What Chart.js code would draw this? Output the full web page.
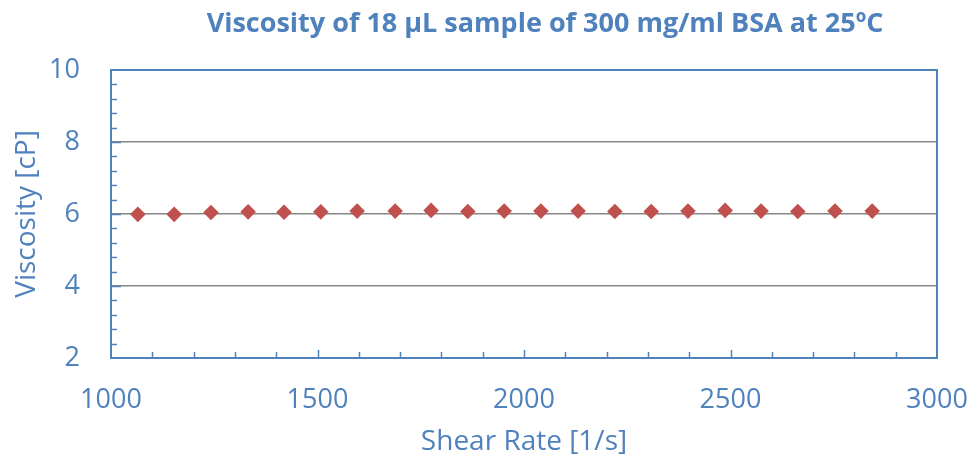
<!DOCTYPE html>
<html><head><meta charset="utf-8">
<script src="https://cdn.jsdelivr.net/npm/chart.js@4"></script>
<style>html,body{margin:0;padding:0;background:#fff}#wrap{width:971px;height:462px}</style>
</head><body><div id="wrap"><canvas id="c" width="971" height="462"></canvas></div>
<script>
const chartTitle = 'Viscosity of 18 µL sample of 300 mg/ml BSA at 25ºC';
const xAxisTitle = 'Shear Rate [1/s]';
const yAxisTitle = 'Viscosity [cP]';
const shearRate = [1065, 1153, 1242, 1332, 1419, 1508, 1596, 1688, 1775, 1864, 1952, 2041, 2131, 2220, 2308, 2397, 2487, 2574, 2663, 2753, 2843];
const viscosity = [5.99, 5.99, 6.04, 6.06, 6.05, 6.06, 6.08, 6.08, 6.10, 6.07, 6.08, 6.08, 6.08, 6.07, 6.07, 6.08, 6.10, 6.08, 6.07, 6.08, 6.08];
const xRange = [1000, 3000];
const yRange = [2, 10];
const xMajorStep = 500, xMinorStep = 100;
const yMajorStep = 2, yMinorStep = 0.4;

const BLUE = '#4F81BD';
const RED = '#C0504D';
const FONT = '"Open Sans", "DejaVu Sans", sans-serif';

const framePlugin = {
  id: 'frame',
  beforeDatasetsDraw(chart) {
    const {ctx, chartArea: a, scales: {x, y}} = chart;
    ctx.save();
    ctx.strokeStyle = BLUE;
    ctx.lineWidth = 1.5;
    const nx = Math.round((xRange[1] - xRange[0]) / xMinorStep);
    for (let i = 1; i < nx; i++) {
      const v = xRange[0] + i * xMinorStep;
      const px = Math.round(x.getPixelForValue(v)) + 0.5;
      const len = (i % (xMajorStep / xMinorStep) === 0) ? 8 : 6;
      ctx.beginPath(); ctx.moveTo(px, a.bottom); ctx.lineTo(px, a.bottom - len); ctx.stroke();
    }
    const ny = Math.round((yRange[1] - yRange[0]) / yMinorStep);
    for (let i = 1; i < ny; i++) {
      const v = yRange[0] + i * yMinorStep;
      const py = Math.round(y.getPixelForValue(v)) + 0.5;
      const len = (i % Math.round(yMajorStep / yMinorStep) === 0) ? 10 : 6;
      ctx.beginPath(); ctx.moveTo(a.left, py); ctx.lineTo(a.left + len, py); ctx.stroke();
    }
    ctx.lineWidth = 2;
    ctx.strokeRect(a.left, a.top, a.right - a.left, a.bottom - a.top);
    ctx.restore();
  },
  afterDraw(chart) {
    const {ctx} = chart;
    ctx.save();
    ctx.font = 'bold 27px ' + FONT;
    ctx.fillStyle = BLUE;
    ctx.textAlign = 'center';
    ctx.textBaseline = 'middle';
    ctx.fillText(chartTitle, 545, 24);
    ctx.restore();
  }
};

new Chart(document.getElementById('c'), {
  type: 'scatter',
  data: {
    datasets: [{
      data: shearRate.map((s, i) => ({x: s, y: viscosity[i]})),
      pointStyle: 'rectRot',
      pointRadius: 7.8,
      pointBackgroundColor: RED,
      pointBorderColor: RED,
      pointBorderWidth: 0,
      showLine: false
    }]
  },
  plugins: [framePlugin],
  options: {
    responsive: false,
    animation: false,
    devicePixelRatio: 1,
    layout: {padding: {top: 70, right: 34, left: 0, bottom: 0}},
    plugins: {legend: {display: false}, title: {display: false}, tooltip: {enabled: false}},
    scales: {
      x: {
        type: 'linear', min: xRange[0], max: xRange[1],
        ticks: {stepSize: xMajorStep, color: BLUE, font: {family: FONT, size: 27}, padding: 26, maxRotation: 0,
                callback: v => String(v)},
        grid: {display: false, drawTicks: false},
        border: {display: false},
        title: {display: true, text: xAxisTitle, color: BLUE, font: {family: FONT, size: 28}, padding: {top: 0, bottom: 3}},
        afterFit: s => { s.height = 104; s.paddingLeft = 0; s.paddingRight = 0; }
      },
      y: {
        type: 'linear', min: yRange[0], max: yRange[1],
        ticks: {stepSize: yMajorStep, color: BLUE, font: {family: FONT, size: 27}, padding: 31,
                callback: v => String(v)},
        grid: {drawTicks: false, lineWidth: 1.5,
               color: c => (c.tick && (c.tick.value === yRange[0] || c.tick.value === yRange[1])) ? 'rgba(0,0,0,0)' : '#868686'},
        border: {display: false},
        title: {display: true, text: yAxisTitle, color: BLUE, font: {family: FONT, size: 28}, padding: {top: 10, bottom: 0}},
        afterFit: s => { s.width = 111; s.paddingTop = 0; s.paddingBottom = 0; }
      }
    }
  }
});
</script>
</body></html>
